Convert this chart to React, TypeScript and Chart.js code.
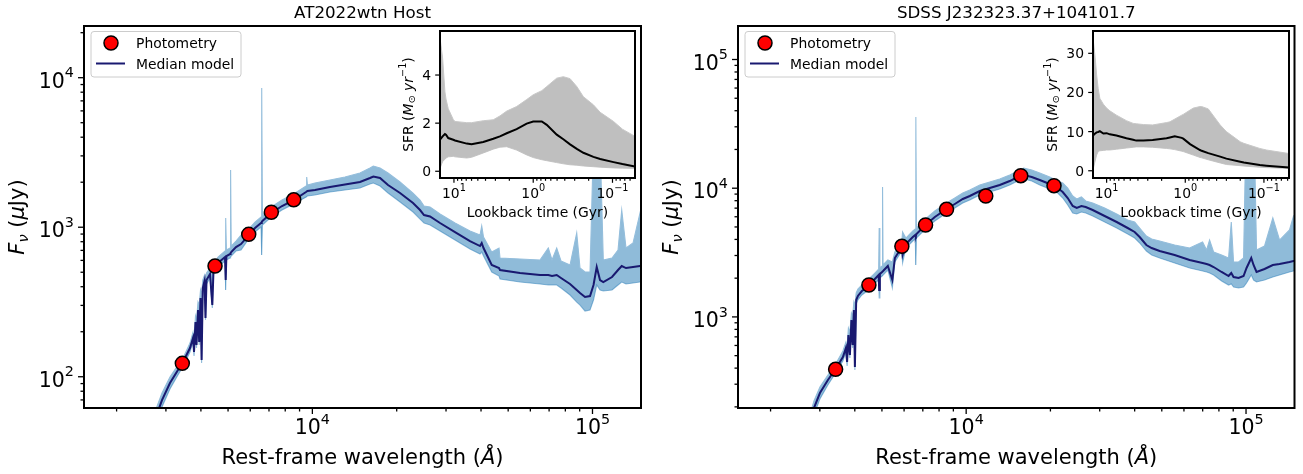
import React, { useEffect, useRef } from 'react';
import { Chart, registerables } from 'chart.js';

Chart.register(...registerables);

// ---------------- AT2022wtn host: SED ----------------
const AT_TITLE = 'AT2022wtn Host';
const AT_WAVE = [2589, 2765, 2905, 3102, 3313, 3481, 3657, 3749, 3780, 3826,
  3858, 3906, 3944, 3987, 4023, 4062, 4120, 4154, 4189, 4311,
  4393, 4437, 4604, 4876, 4904, 4932, 5081, 5106, 5131, 5338,
  5562, 5927, 6240, 6556, 6594, 6632, 7135, 7792, 8579, 9490,
  9545, 9600, 10219, 11559, 13075, 14791, 16061, 16503, 17437, 18621,
  20555, 22873, 24228, 25036, 26302, 28556, 32300, 36530, 39670, 40230,
  40830, 43680, 46380, 46760, 55110, 64950, 69550, 71700, 74520, 77200,
  83140, 87840, 90250, 94040, 97990, 100850, 103540, 106380, 109300, 117420,
  123360, 127170, 131740, 139540, 147800, 154000];
const AT_MED = [37.7, 53.8, 69.8, 90.7, 110.9, 129.3, 155.6, 181.5, 146.3, 232.2,
  162.9, 279.3, 170.7, 336.1, 129.3, 392.0, 436.6, 247.0, 443.5, 486.3,
  301.7, 517.2, 576.1, 631.9, 443.5, 641.7, 661.8, 672.1, 682.6, 737.1,
  771.9, 886.7, 987.7, 1067, 1083, 1100, 1245, 1386, 1520, 1719,
  1719, 1747, 1774, 1858, 1930, 2006, 2134, 2183, 2134, 1915,
  1693, 1451, 1303, 1207, 1179, 1067, 928.8, 808.5, 748.5, 784.0,
  725.8, 558.6, 533.4, 517.2, 493.9, 478.8, 478.8, 471.6, 478.8, 457.4,
  416.9, 380.1, 362.9, 341.3, 346.5, 410.6, 541.6, 443.5, 430.0, 464.5,
  517.2, 550.1, 533.4, 541.6, 550.1, 550.1];
const AT_HI = [47.5, 60.8, 77.8, 99.5, 119.7, 137.5, 168.0, 199.1, 176.0, 254.7,
  239.4, 315.9, 301.7, 380.1, 352.0, 443.5, 478.8, 443.5, 493.9, 533.4,
  501.5, 567.2, 631.9, 693.0, 1152, 703.8, 725.8, 2413, 748.5, 808.5,
  886.7, 972.5, 1083, 1170, 8535, 1207, 1365, 1520, 1667, 1886,
  2167, 1915, 1975, 2069, 2167, 2304, 2489, 2566, 2489, 2304,
  2006, 1693, 1520, 1386, 1365, 1226, 1067, 943.0, 886.7, 1019,
  859.9, 682.6, 725.8, 622.2, 612.9, 603.4, 725.8, 603.4, 725.8, 594.1,
  558.6, 914.6, 533.4, 501.5, 501.5, 3830, 3830, 3830, 603.4, 622.2,
  703.8, 1303, 725.8, 784.0, 1245, 820.9];
const AT_LO = [29.9, 46.8, 62.7, 82.8, 102.6, 119.7, 146.3, 170.7, 137.5, 218.3,
  155.6, 262.6, 162.9, 315.9, 123.5, 368.6, 410.6, 239.4, 416.9, 457.4,
  288.0, 486.3, 541.6, 594.1, 380.1, 603.4, 622.2, 631.9, 641.7, 693.0,
  703.8, 833.7, 928.8, 1003, 651.6, 1034, 1170, 1303, 1430, 1592,
  1592, 1617, 1642, 1719, 1774, 1829, 1945, 1975, 1886, 1693,
  1474, 1264, 1134, 1067, 1034, 943.0, 820.9, 714.6, 661.8, 682.6,
  641.7, 501.5, 471.6, 450.4, 430.0, 416.9, 410.6, 410.6, 410.6, 392.0,
  352.0, 315.9, 301.7, 275.0, 279.3, 325.8, 410.6, 380.1, 374.3, 380.1,
  410.6, 430.0, 416.9, 423.4, 430.0, 430.0];
const AT_PHOT_WAVE = [3433, 4492, 5926, 7136, 8579];
const AT_PHOT_FLUX = [122.9, 550, 896, 1260, 1525];
const AT_X_RANGE = [1530, 149000];
const AT_Y_RANGE = [61.8, 22170];
const AT_Y_TICK_VALUES = [1e2, 1e3, 1e4];
const AT_Y_TICK_LABELS = ['10^2', '10^3', '10^4'];

// ---------------- AT2022wtn host: SFH inset ----------------
const AT_SFH_TIME = [15.0, 13.9, 13.0, 12.6, 11.8, 10.2, 9.7, 6.9, 6.0, 4.27, 3.19, 2.63, 2.16, 1.62,
  1.21, 1.0, 0.78, 0.675, 0.505, 0.417, 0.343, 0.282, 0.233, 0.174, 0.143, 0.097, 0.075, 0.052];
const AT_SFH_MED = [1.31, 1.45, 1.55, 1.52, 1.38, 1.31, 1.28, 1.15, 1.12, 1.22, 1.35, 1.45, 1.58, 1.75,
  1.98, 2.07, 2.07, 1.93, 1.52, 1.33, 1.12, 0.93, 0.77, 0.60, 0.51, 0.38, 0.30, 0.20];
const AT_SFH_HI = [5.55, 4.7, 3.3, 3.0, 2.6, 2.15, 2.07, 2.02, 2.02, 2.1, 2.14, 2.3, 2.5, 2.69,
  2.98, 3.18, 3.35, 3.52, 3.87, 3.93, 3.85, 3.52, 3.1, 2.76, 2.45, 2.07, 1.75, 1.45];
const AT_SFH_LO = [0.12, 0.4, 0.5, 0.55, 0.6, 0.62, 0.6, 0.55, 0.58, 0.76, 0.92, 1.0, 1.02, 0.88,
  0.68, 0.57, 0.48, 0.44, 0.36, 0.31, 0.27, 0.25, 0.22, 0.19, 0.17, 0.14, 0.13, 0.12];
const AT_SFR_RANGE = [-0.28, 5.83];
const AT_SFR_TICKS = [0, 2, 4];

// ---------------- SDSS J232323.37+104101.7: SED ----------------
const SDSS_TITLE = 'SDSS J232323.37+104101.7';
const SDSS_WAVE = [2676, 2858, 3002, 3206, 3416, 3627, 3718, 3754, 3795, 3842,
  3890, 3931, 3970, 4003, 4046, 4103, 4240, 4382, 4492, 4680,
  4868, 4888, 4916, 5006, 5026, 5047, 5250, 5448, 5561, 5892,
  5926, 6088, 6448, 6577, 6610, 6642, 7158, 7727, 8508, 9108,
  9727, 10303, 11186, 12144, 13183, 14312, 15288, 16061, 17152, 18317,
  19886, 21237, 22131, 23058, 24026, 24832, 25807, 26736, 28317, 31246,
  34496, 37760, 39996, 41675, 44035, 45996, 49123, 55568, 62860, 69950,
  72290, 74095, 76573, 81777, 86620, 88564, 90250, 94040, 97990, 100430,
  104390, 106380, 109030, 116450, 124670, 131740, 143000, 147800, 155300];
const SDSS_MED = [110.5, 196.0, 256.3, 323.3, 393.8, 488.1, 573.3, 446.3, 723.3, 505.7,
  945.9, 604.8, 1131, 408.1, 1353, 1454, 1589, 1677, 1769, 1935,
  2116, 1618, 2154, 2234, 2234, 2273, 2487, 1935, 2868, 3493,
  3026, 3684, 4177, 4328, 4252, 4407, 5176, 5973, 6894, 7539,
  8244, 8697, 9511, 10030, 10590, 11370, 12220, 12660, 12220, 11580,
  10780, 10030, 9343, 8391, 7273, 7017, 7273, 7143, 6769, 6081,
  5462, 4907, 4568, 4177, 3620, 3430, 3251, 3026, 2768, 2623,
  2576, 2531, 2442, 2234, 2079, 2194, 2042, 2005, 2079, 2399,
  2868, 2531, 2234, 2356, 2531, 2576, 2671, 2719, 2719];
const SDSS_HI = [137.0, 222.0, 285.3, 353.6, 430.5, 543.3, 638.3, 594.2, 819.8, 763.2,
  1072, 1016, 1306, 1237, 1534, 1647, 1769, 1867, 1970, 2154,
  2356, 4907, 2399, 2487, 10220, 2531, 2768, 2671, 3194, 3889,
  4568, 4102, 4650, 4820, 35740, 4907, 5763, 6650, 7674, 8391,
  9177, 9683, 10590, 11170, 11790, 12660, 13600, 14360, 13850, 13130,
  12220, 11370, 10980, 10030, 8697, 8244, 8543, 7953, 7674, 7017,
  6303, 5661, 5462, 4907, 4252, 4030, 3889, 3620, 3430, 3819,
  3310, 3958, 3194, 3026, 2868, 5462, 2671, 2671, 2868, 48460,
  48460, 48460, 3310, 3556, 5866, 3958, 4734, 6081, 6769];
const SDSS_LO = [89.2, 172.9, 230.2, 295.6, 366.6, 454.3, 533.7, 415.5, 673.3, 479.3,
  880.6, 573.3, 1053, 386.8, 1260, 1353, 1480, 1561, 1647, 1801,
  1935, 1402, 2005, 2079, 2079, 2116, 2314, 1677, 2671, 3251,
  2623, 3430, 3889, 4030, 2531, 4102, 4820, 5560, 6417, 7017,
  7674, 8098, 8855, 9343, 9858, 10590, 11370, 11790, 11370, 10590,
  9858, 9177, 8391, 7405, 6417, 6303, 6534, 6417, 6081, 5462,
  4907, 4407, 4102, 3752, 3251, 3026, 2868, 2623, 2399, 2273,
  2234, 2194, 2116, 1901, 1769, 1801, 1708, 1677, 1708, 1834,
  2116, 1935, 1867, 1935, 2042, 2116, 2234, 2273, 2273];
const SDSS_PHOT_WAVE = [3416, 4492, 5891, 7159, 8508, 11750, 15670, 20600];
const SDSS_PHOT_FLUX = [391.6, 1770, 3537, 5177, 6855, 8697, 12510, 10460];
const SDSS_X_RANGE = [1530, 149000];
const SDSS_Y_RANGE = [196, 182100];
const SDSS_Y_TICK_VALUES = [1e3, 1e4, 1e5];
const SDSS_Y_TICK_LABELS = ['10^3', '10^4', '10^5'];

// ---------------- SDSS: SFH inset ----------------
const SDSS_SFH_TIME = [14.9, 14.0, 13.4, 12.8, 12.2, 11.0, 10.0, 9.1, 7.5, 5.6, 4.6, 4.2, 3.4, 2.6, 1.73,
  1.57, 1.36, 1.11, 1.06, 0.87, 0.79, 0.65, 0.62, 0.51, 0.36, 0.30, 0.20, 0.18, 0.113, 0.093, 0.048];
const SDSS_SFH_MED = [9.0, 9.5, 9.8, 9.9, 10.1, 9.5, 9.6, 9.3, 9.0, 8.3, 7.9, 7.7, 7.7, 7.85, 8.3,
  8.5, 8.8, 8.4, 8.2, 6.8, 6.3, 5.3, 5.1, 4.5, 3.6, 3.1, 2.3, 2.1, 1.45, 1.3, 0.8];
const SDSS_SFH_HI = [34, 29, 24.5, 21, 18.5, 17, 16, 15.3, 14.2, 12.8, 12.1, 12.0, 11.8, 11.7, 12.3,
  12.5, 13.2, 14.2, 14.4, 15.5, 16.0, 16.4, 16.4, 15.8, 11.7, 10.0, 7.4, 7.0, 5.7, 5.3, 4.4];
const SDSS_SFH_LO = [0.2, 2.5, 4.0, 4.9, 5.1, 5.2, 5.3, 5.3, 5.5, 5.8, 6.0, 6.1, 6.1, 6.0, 5.7,
  5.6, 5.4, 5.0, 4.9, 4.3, 4.0, 3.4, 3.3, 2.8, 2.0, 1.6, 1.3, 1.2, 0.9, 0.8, 0.6];
const SDSS_SFR_RANGE = [-1.85, 35.7];
const SDSS_SFR_TICKS = [0, 10, 20, 30];

// ---------------- shared axis ticks ----------------
const SED_X_TICK_VALUES = [1e4, 1e5];
const SED_X_TICK_LABELS = ['10^4', '10^5'];
const LOOKBACK_RANGE_AT = [0.052, 15.0];
const LOOKBACK_RANGE_SDSS = [0.048, 14.9];
const LOOKBACK_TICK_VALUES = [10, 1, 0.1];
const LOOKBACK_TICK_LABELS = ['10^1', '10^0', '10^\u22121'];

// ---------------- styles ----------------
const FAMILY = '"DejaVu Sans", "Noto Sans", sans-serif';
const NAVY = '#191970';
const BAND = 'rgba(31,119,180,0.5)';
const BAND_EDGE = 'rgb(148,190,220)';
const GREY = 'rgb(191,191,191)';
const GREY_EDGE = 'rgb(200,200,200)';

type Part = { t: string; it?: boolean; sc?: number; dy?: number };

function fontOf(size: number, it?: boolean) {
  return `${it ? 'italic ' : ''}${size}px ${FAMILY}`;
}
function richWidth(ctx: CanvasRenderingContext2D, parts: Part[], size: number) {
  let w = 0;
  for (const p of parts) {
    ctx.font = fontOf(size * (p.sc ?? 1), p.it);
    w += ctx.measureText(p.t).width;
  }
  return w;
}
function drawRich(ctx: CanvasRenderingContext2D, parts: Part[], x: number, base: number, size: number, align: string) {
  const w = richWidth(ctx, parts, size);
  let cx = align === 'center' ? x - w / 2 : align === 'right' ? x - w : x;
  ctx.textAlign = 'left';
  ctx.textBaseline = 'alphabetic';
  for (const p of parts) {
    ctx.font = fontOf(size * (p.sc ?? 1), p.it);
    ctx.fillText(p.t, cx, base + (p.dy ?? 0) * size);
    cx += ctx.measureText(p.t).width;
  }
  return w;
}
function drawRotated(ctx: CanvasRenderingContext2D, parts: Part[], bx: number, cy: number, size: number) {
  ctx.save();
  ctx.translate(bx, cy);
  ctx.rotate(-Math.PI / 2);
  drawRich(ctx, parts, 0, 0, size, 'center');
  ctx.restore();
}
function powerParts(label: string): Part[] {
  const [b, e] = label.split('^');
  return e === undefined ? [{ t: b }] : [{ t: b }, { t: e, sc: 0.7, dy: -0.5 }];
}
function minorLog(min: number, max: number) {
  const out: number[] = [];
  for (let d = Math.floor(Math.log10(min)); d <= Math.ceil(Math.log10(max)); d++) {
    for (let k = 2; k <= 9; k++) {
      const v = k * Math.pow(10, d);
      if (v >= min && v <= max) out.push(v);
    }
  }
  return out;
}
function seg(ctx: CanvasRenderingContext2D, x1: number, y1: number, x2: number, y2: number) {
  ctx.beginPath();
  ctx.moveTo(x1, y1);
  ctx.lineTo(x2, y2);
  ctx.stroke();
}
function roundRect(ctx: CanvasRenderingContext2D, x: number, y: number, w: number, h: number, r: number) {
  ctx.beginPath();
  ctx.moveTo(x + r, y);
  ctx.lineTo(x + w - r, y);
  ctx.arcTo(x + w, y, x + w, y + r, r);
  ctx.lineTo(x + w, y + h - r);
  ctx.arcTo(x + w, y + h, x + w - r, y + h, r);
  ctx.lineTo(x + r, y + h);
  ctx.arcTo(x, y + h, x, y + h - r, r);
  ctx.lineTo(x, y + r);
  ctx.arcTo(x, y, x + r, y, r);
  ctx.closePath();
}

const pts = (xs: number[], ys: number[]) => xs.map((x, i) => ({ x, y: ys[i] }));

const X_LABEL: Part[] = [{ t: 'Rest-frame wavelength (' }, { t: '\u00C5', it: true }, { t: ')' }];
const Y_LABEL: Part[] = [{ t: 'F', it: true }, { t: '\u03BD', it: true, sc: 0.7, dy: 0.18 }, { t: ' (' }, { t: '\u03BC', it: true }, { t: 'Jy)' }];
const INSET_X_LABEL: Part[] = [{ t: 'Lookback time (Gyr)' }];
const INSET_Y_LABEL: Part[] = [{ t: 'SFR (' }, { t: 'M', it: true }, { t: '\u2299', sc: 0.7, dy: 0.18 }, { t: ' ' }, { t: 'yr', it: true }, { t: '\u22121', sc: 0.7, dy: -0.45 }, { t: ')' }];

const TICK_FS = 20.5;
const LABEL_FS = 21;
const TITLE_FS = 16.7;
const SMALL_FS = 13.9;

function mainPlugin(title: string, yTickValues: number[], yTickLabels: string[]) {
  return {
    id: 'mplMain',
    afterDraw(chart: any) {
      const ctx: CanvasRenderingContext2D = chart.ctx;
      const a = chart.chartArea;
      const xs = chart.scales.x;
      const ys = chart.scales.y;
      ctx.save();
      // legend
      roundRect(ctx, a.left + 7, a.top + 5.5, 150, 45.5, 3);
      ctx.fillStyle = 'rgba(255,255,255,0.8)';
      ctx.fill();
      ctx.strokeStyle = '#cccccc';
      ctx.lineWidth = 1;
      ctx.stroke();
      ctx.beginPath();
      ctx.arc(a.left + 27, a.top + 17, 7, 0, Math.PI * 2);
      ctx.fillStyle = '#ff0000';
      ctx.fill();
      ctx.strokeStyle = '#000';
      ctx.lineWidth = 1.5;
      ctx.stroke();
      ctx.strokeStyle = NAVY;
      ctx.lineWidth = 2;
      seg(ctx, a.left + 12, a.top + 37.5, a.left + 41, a.top + 37.5);
      ctx.fillStyle = '#000';
      drawRich(ctx, [{ t: 'Photometry' }], a.left + 52, a.top + 22, SMALL_FS, 'left');
      drawRich(ctx, [{ t: 'Median model' }], a.left + 52, a.top + 42.6, SMALL_FS, 'left');
      // frame
      ctx.strokeStyle = '#000';
      ctx.lineWidth = 2;
      ctx.strokeRect(a.left, a.top, a.right - a.left, a.bottom - a.top);
      // ticks
      ctx.lineWidth = 1.3;
      for (const v of minorLog(xs.min, xs.max)) {
        const px = xs.getPixelForValue(v);
        seg(ctx, px, a.bottom, px, a.bottom + 3.5);
      }
      SED_X_TICK_VALUES.forEach((v, i) => {
        if (v < xs.min || v > xs.max) return;
        const px = xs.getPixelForValue(v);
        seg(ctx, px, a.bottom, px, a.bottom + 6);
        drawRich(ctx, powerParts(SED_X_TICK_LABELS[i]), px, a.bottom + 26, TICK_FS, 'center');
      });
      for (const v of minorLog(ys.min, ys.max)) {
        const py = ys.getPixelForValue(v);
        seg(ctx, a.left - 3.5, py, a.left, py);
      }
      yTickValues.forEach((v, i) => {
        if (v < ys.min || v > ys.max) return;
        const py = ys.getPixelForValue(v);
        seg(ctx, a.left - 6, py, a.left, py);
        drawRich(ctx, powerParts(yTickLabels[i]), a.left - 10, py + 10, TICK_FS, 'right');
      });
      // axis labels and title
      drawRich(ctx, X_LABEL, (a.left + a.right) / 2, a.bottom + 56, LABEL_FS, 'center');
      drawRotated(ctx, Y_LABEL, a.left - 60, (a.top + a.bottom) / 2, LABEL_FS);
      drawRich(ctx, [{ t: title }], (a.left + a.right) / 2, a.top - 8, TITLE_FS, 'center');
      ctx.restore();
    },
  };
}

function insetPlugin(yTicks: number[]) {
  return {
    id: 'mplInset',
    beforeDraw(chart: any) {
      const ctx: CanvasRenderingContext2D = chart.ctx;
      const a = chart.chartArea;
      ctx.save();
      ctx.fillStyle = '#ffffff';
      ctx.fillRect(a.left, a.top, a.right - a.left, a.bottom - a.top);
      ctx.restore();
    },
    afterDraw(chart: any) {
      const ctx: CanvasRenderingContext2D = chart.ctx;
      const a = chart.chartArea;
      const xs = chart.scales.x;
      const ys = chart.scales.y;
      ctx.save();
      ctx.strokeStyle = '#000';
      ctx.fillStyle = '#000';
      ctx.lineWidth = 2;
      ctx.strokeRect(a.left, a.top, a.right - a.left, a.bottom - a.top);
      ctx.lineWidth = 1.2;
      for (const v of minorLog(xs.min, xs.max)) {
        const px = xs.getPixelForValue(v);
        seg(ctx, px, a.bottom, px, a.bottom + 2.8);
      }
      LOOKBACK_TICK_VALUES.forEach((v, i) => {
        const px = xs.getPixelForValue(v);
        seg(ctx, px, a.bottom, px, a.bottom + 4.8);
        drawRich(ctx, powerParts(LOOKBACK_TICK_LABELS[i]), px, a.bottom + 20, SMALL_FS, 'center');
      });
      let maxW = 0;
      for (const v of yTicks) {
        const py = ys.getPixelForValue(v);
        seg(ctx, a.left - 4.8, py, a.left, py);
        const w = drawRich(ctx, [{ t: String(v) }], a.left - 9, py + 5, SMALL_FS, 'right');
        maxW = Math.max(maxW, w);
      }
      drawRich(ctx, INSET_X_LABEL, (a.left + a.right) / 2, a.bottom + 39, SMALL_FS, 'center');
      drawRotated(ctx, INSET_Y_LABEL, a.left - 9 - maxW - 9.5, (a.top + a.bottom) / 2, SMALL_FS);
      ctx.restore();
    },
  };
}

function sedConfig(p: any, pad: any) {
  return {
    type: 'line',
    data: {
      datasets: [
        { label: 'upper', data: pts(p.wave, p.hi), borderWidth: 1.1, borderColor: BAND_EDGE, pointRadius: 0, fill: '+1', backgroundColor: BAND, order: 3 },
        { label: 'lower', data: pts(p.wave, p.lo), borderWidth: 1.1, borderColor: BAND_EDGE, pointRadius: 0, fill: false, order: 4 },
        { label: 'Median model', data: pts(p.wave, p.med), borderColor: NAVY, borderWidth: 2, pointRadius: 0, fill: false, order: 1 },
        { label: 'Photometry', data: pts(p.photWave, p.photFlux), showLine: false, pointRadius: 7, pointBackgroundColor: '#ff0000', pointBorderColor: '#000', pointBorderWidth: 1.5, order: 0 },
      ],
    },
    options: {
      animation: false,
      responsive: false,
      maintainAspectRatio: false,
      events: [],
      layout: { padding: pad },
      plugins: { legend: { display: false }, tooltip: { enabled: false }, title: { display: false } },
      scales: {
        x: { type: 'logarithmic', display: false, min: p.xRange[0], max: p.xRange[1], bounds: 'data' },
        y: { type: 'logarithmic', display: false, min: p.yRange[0], max: p.yRange[1], bounds: 'data' },
      },
    },
    plugins: [mainPlugin(p.title, p.yTickValues, p.yTickLabels)],
  };
}

function sfhConfig(s: any, pad: any) {
  return {
    type: 'line',
    data: {
      datasets: [
        { label: 'hi', data: pts(s.time, s.hi), borderWidth: 1, borderColor: GREY_EDGE, pointRadius: 0, fill: '+1', backgroundColor: GREY, order: 3 },
        { label: 'lo', data: pts(s.time, s.lo), borderWidth: 1, borderColor: GREY_EDGE, pointRadius: 0, fill: false, order: 4 },
        { label: 'median', data: pts(s.time, s.med), borderColor: '#000', borderWidth: 2, pointRadius: 0, fill: false, order: 1 },
      ],
    },
    options: {
      animation: false,
      responsive: false,
      maintainAspectRatio: false,
      events: [],
      layout: { padding: pad },
      plugins: { legend: { display: false }, tooltip: { enabled: false }, title: { display: false } },
      scales: {
        x: { type: 'logarithmic', display: false, reverse: true, min: s.xRange[0], max: s.xRange[1], bounds: 'data' },
        y: { type: 'linear', display: false, min: s.yRange[0], max: s.yRange[1], bounds: 'data' },
      },
    },
    plugins: [insetPlugin(s.yTicks)],
  };
}

const AT_PANEL = {
  title: AT_TITLE, wave: AT_WAVE, med: AT_MED, hi: AT_HI, lo: AT_LO,
  photWave: AT_PHOT_WAVE, photFlux: AT_PHOT_FLUX, xRange: AT_X_RANGE, yRange: AT_Y_RANGE,
  yTickValues: AT_Y_TICK_VALUES, yTickLabels: AT_Y_TICK_LABELS,
};
const SDSS_PANEL = {
  title: SDSS_TITLE, wave: SDSS_WAVE, med: SDSS_MED, hi: SDSS_HI, lo: SDSS_LO,
  photWave: SDSS_PHOT_WAVE, photFlux: SDSS_PHOT_FLUX, xRange: SDSS_X_RANGE, yRange: SDSS_Y_RANGE,
  yTickValues: SDSS_Y_TICK_VALUES, yTickLabels: SDSS_Y_TICK_LABELS,
};
const AT_INSET = { time: AT_SFH_TIME, med: AT_SFH_MED, hi: AT_SFH_HI, lo: AT_SFH_LO, xRange: LOOKBACK_RANGE_AT, yRange: AT_SFR_RANGE, yTicks: AT_SFR_TICKS };
const SDSS_INSET = { time: SDSS_SFH_TIME, med: SDSS_SFH_MED, hi: SDSS_SFH_HI, lo: SDSS_SFH_LO, xRange: LOOKBACK_RANGE_SDSS, yRange: SDSS_SFR_RANGE, yTicks: SDSS_SFR_TICKS };

function ChartCanvas(props: { left: number; top: number; width: number; height: number; build: () => any }) {
  const ref = useRef<HTMLCanvasElement>(null);
  useEffect(() => {
    const c = ref.current;
    if (!c) return;
    const chart = new Chart(c, props.build());
    return () => chart.destroy();
  }, []);
  return (
    <canvas
      ref={ref}
      width={props.width}
      height={props.height}
      style={{ position: 'absolute', left: props.left, top: props.top, width: props.width, height: props.height }}
    />
  );
}

export default function App() {
  return (
    <div style={{ position: 'absolute', left: 0, top: 0, width: 1303, height: 474, background: '#ffffff', overflow: 'hidden' }}>
      <ChartCanvas left={0} top={0} width={650} height={474} build={() => sedConfig(AT_PANEL, { left: 84, top: 26, right: 9, bottom: 66 })} />
      <ChartCanvas left={650} top={0} width={653} height={474} build={() => sedConfig(SDSS_PANEL, { left: 88, top: 26, right: 8, bottom: 66 })} />
      <ChartCanvas left={380} top={0} width={262} height={232} build={() => sfhConfig(AT_INSET, { left: 60, top: 31, right: 7, bottom: 54 })} />
      <ChartCanvas left={1030} top={0} width={266} height={232} build={() => sfhConfig(SDSS_INSET, { left: 63, top: 31, right: 7, bottom: 54 })} />
    </div>
  );
}
